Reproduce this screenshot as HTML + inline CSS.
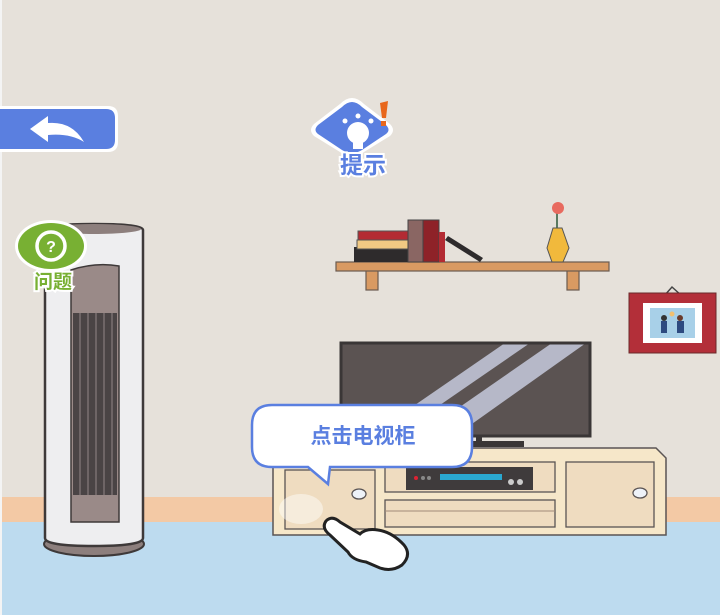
<!DOCTYPE html>
<html><head><meta charset="utf-8"><style>
html,body{margin:0;padding:0;width:720px;height:615px;overflow:hidden;background:#e6e1da}
svg{display:block}
text{font-family:"Liberation Sans","Noto Sans CJK SC",sans-serif;font-weight:bold}
</style></head><body>
<svg width="720" height="615" viewBox="0 0 720 615">
<rect width="720" height="615" fill="#e6e1da"/>
<rect x="0" y="497" width="720" height="26" fill="#f3c9a5"/>
<rect x="0" y="522" width="720" height="93" fill="#bddbef"/>
<rect x="0" y="0" width="2" height="615" fill="#f4f4f4"/>

<!-- back button -->
<path d="M0 106 H108 Q118 106 118 116 V142 Q118 152 108 152 H0 Z" fill="#fff"/>
<path d="M0 109 H106 Q115 109 115 118 V140 Q115 149 106 149 H0 Z" fill="#5a7fe0"/>
<path d="M30 129 L48 116 L48 123 Q72 121 84 142 Q70 133 48 135 L48 142 Z" fill="#fff"/>

<!-- hint icon -->
<path d="M352 98 Q358 98 364 104 L390 124 Q396 130 390 136 L364 152 Q358 157 352 157 Q346 157 340 152 L314 136 Q308 130 314 124 L340 104 Q346 98 352 98Z" fill="#fff"/>
<path d="M352 102 Q357 102 362 107 L386 125 Q391 130 386 134 L362 150 Q357 153 352 153 Q347 153 342 150 L318 134 Q313 130 318 125 L342 107 Q347 102 352 102Z" fill="#5a7fe0"/>
<ellipse cx="358" cy="133" rx="11" ry="11" fill="#fff"/>
<rect x="353" y="141" width="10" height="8" fill="#fff"/>
<circle cx="358" cy="116" r="2.5" fill="#fff"/><circle cx="345" cy="121" r="2.5" fill="#fff"/><circle cx="371" cy="121" r="2.5" fill="#fff"/>
<path d="M380 103 L388 101 L386 118 L382 118Z" fill="#e8671c"/><rect x="381" y="121" width="5" height="5" fill="#e8671c"/>
<text x="363" y="173" font-size="23" text-anchor="middle" fill="#5a7fe0" stroke="#fff" stroke-width="4" paint-order="stroke">提示</text>

<!-- shelf -->
<rect x="366" y="270" width="12" height="20" fill="#d99a62" stroke="#6a5a50" stroke-width="1.2"/>
<rect x="567" y="270" width="12" height="20" fill="#d99a62" stroke="#6a5a50" stroke-width="1.2"/>
<rect x="336" y="262" width="273" height="9" fill="#d99a62" stroke="#6a5a50" stroke-width="1.2"/>
<rect x="354" y="247" width="54" height="15" fill="#2e2b2c"/>
<rect x="357" y="240" width="52" height="9" fill="#f1c983" stroke="#555" stroke-width="1"/>
<rect x="358" y="231" width="50" height="9" fill="#b32b33" stroke="#555" stroke-width="1"/>
<rect x="408" y="220" width="15" height="42" fill="#8a6663" stroke="#444" stroke-width="1"/>
<rect x="423" y="220" width="16" height="42" fill="#8e2228" stroke="#444" stroke-width="1"/>
<rect x="439" y="232" width="6" height="30" fill="#b32b33"/>
<path d="M448 236 L483 258 L480 262 L445 240Z" fill="#2e2b2c"/>
<line x1="557" y1="213" x2="557" y2="228" stroke="#5a7a60" stroke-width="2"/>
<circle cx="558" cy="208" r="6" fill="#e86a5f"/>
<path d="M553 228 H562 L569 248 L563 262 H552 L547 248Z" fill="#f1b93c" stroke="#555" stroke-width="1"/>

<!-- picture -->
<path d="M664 296 L672 287 L682 296" fill="none" stroke="#444" stroke-width="1.5"/>
<rect x="629" y="293" width="87" height="60" fill="#b32f39" stroke="#6a2a2a" stroke-width="1"/>
<rect x="643" y="303" width="59" height="40" fill="#fff"/>
<rect x="650" y="308" width="45" height="30" fill="#a8d0e8"/>
<circle cx="664" cy="318" r="3" fill="#333"/><rect x="661" y="321" width="6" height="12" fill="#2d4a80"/>
<circle cx="680" cy="318" r="3" fill="#6a3a2a"/><rect x="677" y="321" width="7" height="12" fill="#2d4a80"/>
<circle cx="672" cy="314" r="2.5" fill="#f2c070"/>

<!-- TV -->
<rect x="341" y="343" width="249" height="93" fill="#5b5352"/>
<path d="M370 436 L505 343 L530 343 L395 436Z" fill="#b6b8c8"/>
<path d="M418 436 L552 343 L586 343 L455 436Z" fill="#b6b8c8"/>
<rect x="341" y="343" width="249" height="93" fill="none" stroke="#3a3636" stroke-width="3"/>
<rect x="476" y="436" width="6" height="8" fill="#3a3636"/>
<rect x="470" y="441" width="54" height="6" fill="#3a3636"/>

<!-- cabinet -->
<path d="M273 462 L285 448 L656 448 L666 458 L666 535 L273 535Z" fill="#f6e7c9" stroke="#5a5454" stroke-width="1.5"/>
<rect x="285" y="470" width="90" height="59" fill="#efdcc0" stroke="#5a5454" stroke-width="1.3"/>
<ellipse cx="359" cy="494" rx="7" ry="5" fill="#eef2f8" stroke="#5a5454" stroke-width="1.3"/>
<rect x="385" y="462" width="170" height="30" fill="#efdcc0" stroke="#5a5454" stroke-width="1.3"/>
<rect x="385" y="500" width="170" height="27" fill="#efdcc0" stroke="#5a5454" stroke-width="1.3"/>
<line x1="385" y1="511" x2="555" y2="511" stroke="#a08a78" stroke-width="1"/>
<rect x="566" y="462" width="88" height="65" fill="#efdcc0" stroke="#5a5454" stroke-width="1.3"/>
<ellipse cx="640" cy="493" rx="7" ry="5" fill="#eef2f8" stroke="#5a5454" stroke-width="1.3"/>
<rect x="406" y="467" width="127" height="23" fill="#3f3b3c"/>
<rect x="440" y="474" width="62" height="6" fill="#2aa8d0"/>
<circle cx="416" cy="478" r="2" fill="#d23"/><circle cx="423" cy="478" r="2" fill="#888"/><circle cx="429" cy="478" r="2" fill="#888"/>
<circle cx="511" cy="482" r="3" fill="#ccc"/><circle cx="520" cy="482" r="3" fill="#ccc"/>

<!-- fan -->
<ellipse cx="94" cy="544" rx="50" ry="12" fill="#8d7f7d" stroke="#3e3939" stroke-width="2"/>
<path d="M45 230 Q45 224 94 224 Q143 224 143 230 L143 538 Q143 546 94 546 Q45 546 45 538Z" fill="#eeeef0" stroke="#3e3939" stroke-width="2.5"/>
<ellipse cx="94" cy="229" rx="47" ry="5" fill="#8d7f7d"/>
<path d="M71 270 Q95 262 119 266 L119 522 L71 522Z" fill="#9a8a88" stroke="#3e3939" stroke-width="1.5"/>
<rect x="73" y="313" width="44" height="182" fill="#4a4445"/>
<g stroke="#7a7072" stroke-width="1.5"><line x1="80" y1="313" x2="80" y2="495"/><line x1="88" y1="313" x2="88" y2="495"/><line x1="96" y1="313" x2="96" y2="495"/><line x1="104" y1="313" x2="104" y2="495"/><line x1="112" y1="313" x2="112" y2="495"/></g>

<!-- question -->
<ellipse cx="51" cy="246" rx="36" ry="26" fill="#fff"/>
<ellipse cx="51" cy="246" rx="33" ry="23" fill="#78b033"/>
<circle cx="51" cy="246" r="14" fill="none" stroke="#fff" stroke-width="3.5"/>
<text x="51" y="252" font-size="16" text-anchor="middle" fill="#fff">?</text>
<text x="53" y="288" font-size="19" text-anchor="middle" fill="#78b033" stroke="#fff" stroke-width="4" paint-order="stroke">问题</text>

<!-- bubble -->
<path d="M272 405 H452 Q472 405 472 425 V447 Q472 467 452 467 H330 L328 484 L308 467 H272 Q252 467 252 447 V425 Q252 405 272 405Z" fill="#fff" stroke="#5a7fe0" stroke-width="2.5"/>
<text x="363" y="443" font-size="21" text-anchor="middle" fill="#5a7fe0" font-weight="normal">点击电视柜</text>

<!-- tap glow & hand -->
<ellipse cx="301" cy="509" rx="22" ry="15" fill="#fff" opacity="0.45"/>
<path d="M326 521 Q332 515 340 522 L360 534 Q366 528 378 530 Q392 532 404 545 Q412 555 402 565 Q392 572 380 568 L366 562 Q352 560 348 552 L330 535 Q321 528 326 521Z" fill="#fff" stroke="#222" stroke-width="3"/>
</svg>
</body></html>
